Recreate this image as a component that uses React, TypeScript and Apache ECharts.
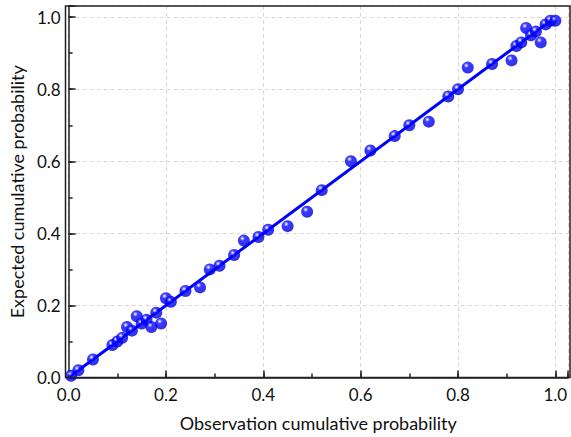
import React, { useEffect, useRef } from "react";
import * as echarts from "echarts";

const obsX: number[] = [
  0.005, 0.02, 0.05, 0.09, 0.1, 0.11, 0.12, 0.13, 0.14, 0.15, 0.16, 0.17, 0.18, 0.19,
  0.2, 0.21, 0.24, 0.27, 0.29, 0.31, 0.34, 0.36, 0.39, 0.41, 0.45, 0.49, 0.52, 0.58,
  0.62, 0.67, 0.7, 0.74, 0.78, 0.8, 0.82, 0.87, 0.91, 0.92, 0.93, 0.94, 0.95, 0.96,
  0.97, 0.98, 0.99, 1.0,
];
const expY: number[] = [
  0.005, 0.02, 0.05, 0.09, 0.1, 0.11, 0.14, 0.13, 0.17, 0.15, 0.16, 0.14, 0.18, 0.15,
  0.22, 0.21, 0.24, 0.25, 0.3, 0.31, 0.34, 0.38, 0.39, 0.41, 0.42, 0.46, 0.52, 0.6,
  0.63, 0.67, 0.7, 0.71, 0.78, 0.8, 0.86, 0.87, 0.88, 0.92, 0.93, 0.97, 0.95, 0.96,
  0.93, 0.98, 0.99, 0.99,
];
const fitX: number[] = [0, 1.0];
const fitY: number[] = [0, 1.0];
const xTitle = "Observation cumulative probability";
const yTitle = "Expected cumulative probability";

const FONT = "Lato, 'Open Sans', sans-serif";

const GRID = { left: 65.5, right: 1, top: 6, bottom: 59.5 };
const W = 571;
const H = 437;

export default function App() {
  const ref = useRef<HTMLDivElement>(null);
  useEffect(() => {
    if (!ref.current) return;
    const chart = echarts.init(ref.current, undefined, { renderer: "svg" });
    const fmt = (v: number) =>
      Math.abs(v * 5 - Math.round(v * 5)) < 1e-6 && v <= 1.0001 ? v.toFixed(1) : "";
    const major = (extra: any) => ({
      type: "value",
      min: 0,
      interval: 0.2,
      axisLine: { show: true, onZero: false, lineStyle: { color: "#222", width: 1.5 } },
      axisTick: { show: true, inside: true, length: 7, lineStyle: { color: "#222", width: 1.5 } },
      axisLabel: { formatter: fmt, color: "#111", fontSize: 17, fontFamily: FONT, margin: 8 },
      splitLine: { show: true, lineStyle: { color: "#d8d8d8", type: [4, 3], width: 1 } },
      nameTextStyle: { color: "#111", fontSize: 18, fontFamily: FONT },
      ...extra,
    });
    const minor = (extra: any) => ({
      type: "value",
      min: 0,
      interval: 0.1,
      axisLine: { show: false },
      axisTick: { show: true, inside: true, length: 4, lineStyle: { color: "#222", width: 1.5 } },
      axisLabel: { show: false },
      splitLine: { show: false },
      ...extra,
    });
    const dots = obsX.map((x, i) => [x, expY[i]]);
    const line = fitX.map((x, i) => [x, fitY[i]]);
    chart.setOption({
      animation: false,
      grid: { ...GRID },
      xAxis: [
        major({
          max: 1.026,
          position: "bottom",
          name: xTitle,
          nameLocation: "middle",
          nameGap: 36,
        }),
        minor({ max: 1.026, position: "bottom", offset: 0 }),
      ],
      yAxis: [
        major({
          max: 1.031,
          position: "left",
          name: yTitle,
          nameLocation: "middle",
          nameGap: 40,
        }),
        minor({ max: 1.031, position: "left", offset: 0 }),
      ],
      graphic: [
        {
          type: "rect",
          z: 100,
          silent: true,
          shape: {
            x: GRID.left,
            y: GRID.top,
            width: W - GRID.left - GRID.right,
            height: H - GRID.top - GRID.bottom,
          },
          style: { fill: "none", stroke: "#222", lineWidth: 1.5 },
        },
      ],
      series: [
        {
          type: "line",
          data: line,
          xAxisIndex: 0,
          yAxisIndex: 0,
          symbol: "none",
          lineStyle: { color: "#0000ff", width: 3 },
          z: 2,
        },
        {
          type: "scatter",
          data: dots,
          xAxisIndex: 0,
          yAxisIndex: 0,
          symbol: "circle",
          symbolSize: 12,
          itemStyle: {
            color: {
              type: "radial",
              x: 0.38,
              y: 0.32,
              r: 0.7,
              colorStops: [
                { offset: 0, color: "#ffffff" },
                { offset: 0.12, color: "#a0a0ff" },
                { offset: 0.3, color: "#0a0aff" },
                { offset: 0.8, color: "#0000f0" },
                { offset: 1, color: "#0000c0" },
              ],
            },
          },
          z: 3,
        },
      ],
    });
    return () => chart.dispose();
  }, []);
  return <div ref={ref} style={{ width: W, height: H, position: "absolute", left: 0, top: 0 }} />;
}
